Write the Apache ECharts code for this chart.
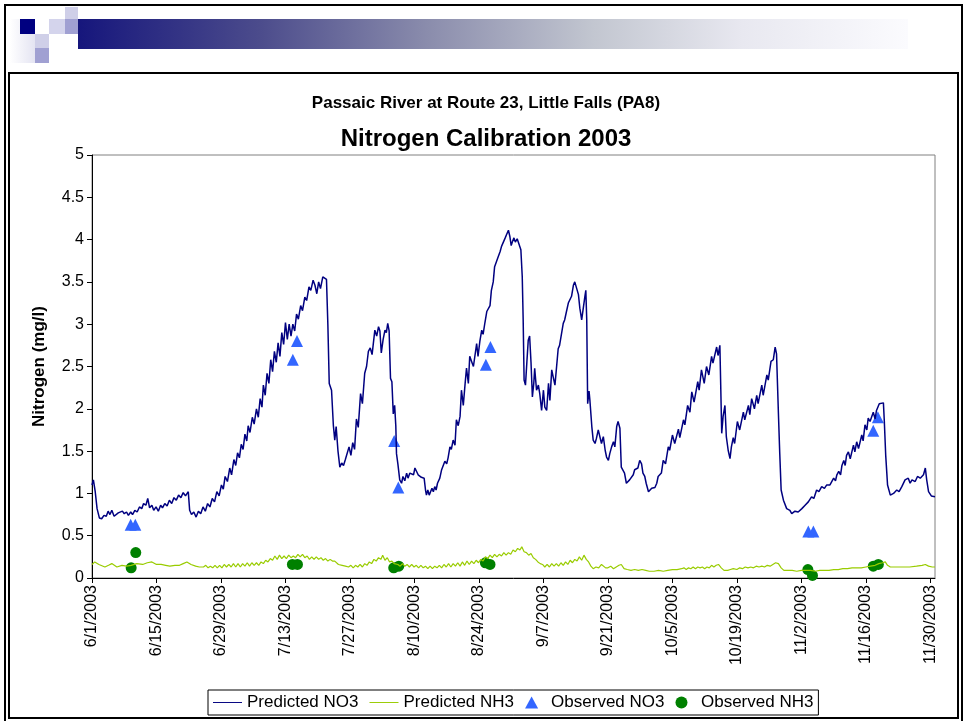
<!DOCTYPE html>
<html>
<head>
<meta charset="utf-8">
<title>Nitrogen Calibration 2003</title>
<script src="https://cdn.jsdelivr.net/npm/echarts@6/dist/echarts.min.js"></script>
<style>
  html, body { margin: 0; padding: 0; background: #fff; }
  body { width: 966px; height: 721px; position: relative; overflow: hidden; }
  .deco { position: absolute; }
  #frame { left: 4px; top: 4px; width: 955px; height: 730px; border: 2px solid #000; }
  #box { left: 8px; top: 72px; width: 947px; height: 643px; border: 2px solid #000; }
  #bar { left: 78px; top: 19px; width: 830px; height: 30px;
         background: linear-gradient(to right, #16167c 0%, #4c4c8c 22%, #8a8cac 42%, #c2c6d0 62%, #e8e8f0 80%, #fbfbfe 100%); }
  #chart { position: absolute; left: 0; top: 0; width: 966px; height: 721px; }
</style>
</head>
<body>
<div class="deco" id="frame"></div>
<div class="deco" id="box"></div>
<div class="deco" style="left:10px;top:19px;width:25px;height:44px;background:linear-gradient(to right,#ffffff,#e4e4f2);"></div>
<div class="deco" style="left:65px;top:7px;width:13px;height:12px;background:#cfcfe8;"></div>
<div class="deco" style="left:20px;top:19px;width:15px;height:15px;background:#000080;"></div>
<div class="deco" style="left:49px;top:19px;width:16px;height:15px;background:#d4d4ec;"></div>
<div class="deco" style="left:65px;top:19px;width:13px;height:15px;background:#a0a0d2;"></div>
<div class="deco" style="left:35px;top:34px;width:14px;height:14px;background:#cfcfe8;"></div>
<div class="deco" style="left:35px;top:48px;width:14px;height:15px;background:#a0a0d2;"></div>
<div class="deco" id="bar"></div>
<div id="chart"></div>
<script>
// x values are days after 6/1/2003
const tickDays = [0, 14, 28, 42, 56, 70, 84, 98, 112, 126, 140, 154, 168, 182]
const tickLabels = ['6/1/2003', '6/15/2003', '6/29/2003', '7/13/2003', '7/27/2003', '8/10/2003', '8/24/2003',
  '9/7/2003', '9/21/2003', '10/5/2003', '10/19/2003', '11/2/2003', '11/16/2003', '11/30/2003']

const predNO3 = [
  [0,1.10],[0.3,1.16],[0.7,1.02],[1.1,0.82],[1.6,0.71],[2.1,0.70],[2.6,0.74],[3.1,0.73],[3.5,0.79],[3.9,0.75],
  [4.3,0.80],[4.8,0.73],[5.2,0.72],[5.7,0.77],[6.1,0.75],[6.6,0.79],[7.0,0.76],[7.5,0.78],[7.9,0.74],[8.4,0.78],
  [8.8,0.75],[9.3,0.80],[9.8,0.78],[10.3,0.84],[10.8,0.82],[11.2,0.88],[11.7,0.86],[12.1,0.94],[12.5,0.83],[13.0,0.86],
  [13.4,0.80],[13.9,0.84],[14.4,0.79],[14.9,0.86],[15.3,0.83],[15.8,0.88],[16.3,0.85],[16.8,0.92],[17.3,0.88],[17.8,0.95],
  [18.3,0.92],[18.8,0.98],[19.3,0.95],[19.8,1.01],[20.3,0.97],[20.9,1.02],[21.2,0.80],[21.6,0.75],[22.1,0.78],[22.6,0.72],
  [23.1,0.79],[23.6,0.76],[24.1,0.84],[24.6,0.79],[25.1,0.88],[25.6,0.84],[26.1,0.94],[26.6,0.90],[27.1,1.02],[27.6,0.97],
  [28.1,1.10],[28.5,1.05],[28.9,1.20],[29.4,1.14],[29.9,1.30],[30.3,1.22],[30.8,1.40],[31.2,1.33],[31.6,1.48],[32.0,1.42],
  [32.4,1.58],[32.8,1.52],[33.2,1.70],[33.6,1.62],[33.9,1.80],[34.3,1.72],[34.8,1.90],[35.2,1.82],[35.7,2.00],[36.1,1.90],
  [36.5,2.12],[36.9,2.02],[37.2,2.28],[37.6,2.16],[38.0,2.42],[38.4,2.30],[38.8,2.58],[39.2,2.44],[39.6,2.68],[40.0,2.55],
  [40.4,2.78],[40.8,2.62],[41.2,2.90],[41.6,2.76],[42.0,3.02],[42.4,2.82],[42.8,3.00],[43.2,2.86],[43.6,3.00],[44.0,2.92],
  [44.4,3.12],[44.8,3.06],[45.3,3.22],[45.7,3.16],[46.2,3.32],[46.6,3.28],[47.1,3.44],[47.5,3.40],[48.0,3.52],[48.4,3.46],
  [48.8,3.36],[49.2,3.50],[49.6,3.42],[50.1,3.56],[50.5,3.55],[50.9,3.53],[51.2,3.00],[51.5,2.30],[52.0,2.22],[52.4,1.80],
  [52.7,1.63],[53.0,1.79],[53.4,1.50],[53.8,1.31],[54.2,1.36],[54.6,1.33],[55.0,1.40],[55.4,1.38],[55.8,1.55],[56.2,1.45],
  [56.6,1.60],[57.0,1.52],[57.4,1.88],[57.8,1.78],[58.3,2.18],[58.7,2.06],[59.2,2.42],[59.6,2.50],[60.0,2.68],[60.4,2.72],
  [60.8,2.64],[61.4,2.93],[61.8,2.86],[62.2,2.97],[62.5,2.92],[62.8,2.66],[63.2,2.82],[63.6,2.93],[63.9,2.90],[64.2,3.01],
  [64.5,2.92],[64.8,2.36],[65.1,2.32],[65.4,1.94],[65.7,2.04],[65.95,1.80],[66.1,1.47],[66.4,1.35],[66.8,1.16],[67.2,1.12],
  [67.5,1.20],[67.9,1.15],[68.3,1.24],[68.6,1.18],[69.0,1.24],[69.4,1.26],[69.8,1.22],[70.1,1.30],[70.5,1.28],[70.8,1.22],
  [71.2,1.24],[71.5,1.19],[72.1,1.18],[72.4,1.04],[72.6,0.98],[72.9,1.04],[73.2,0.98],[73.5,0.96],[73.8,1.06],[74.1,1.02],
  [74.4,1.08],[74.7,1.04],[75.0,1.12],[75.5,1.18],[75.9,1.28],[76.2,1.26],[76.6,1.38],[77.0,1.35],[77.3,1.42],[77.7,1.55],
  [78.0,1.52],[78.4,1.63],[78.8,1.57],[79.1,1.87],[79.5,1.80],[79.9,1.91],[80.2,2.22],[80.6,2.04],[81.0,2.30],[81.3,2.48],
  [81.7,2.30],[82.0,2.62],[82.4,2.56],[82.8,2.50],[83.5,2.77],[83.8,2.62],[84.2,2.80],[84.6,2.93],[84.9,2.88],[85.3,3.02],
  [85.7,3.15],[86.0,3.17],[86.4,3.22],[86.7,3.40],[87.1,3.50],[87.4,3.68],[87.8,3.68],[88.2,3.80],[88.6,3.86],[88.9,3.92],
  [89.3,3.97],[89.7,4.02],[90.0,4.06],[90.4,4.11],[90.7,4.04],[91.0,3.93],[91.3,3.98],[91.6,4.02],[91.9,3.97],[92.3,4.01],
  [92.7,4.00],[93.1,3.88],[93.4,3.56],[93.6,3.05],[93.8,2.34],[94.1,2.28],[94.4,2.55],[94.7,2.81],[95.0,2.86],[95.3,2.55],
  [95.6,2.14],[95.9,2.30],[96.1,2.48],[96.5,2.22],[96.9,2.28],[97.2,2.18],[97.6,1.98],[98.0,2.22],[98.3,2.02],[98.7,1.98],
  [99.1,2.30],[99.4,2.10],[99.8,2.46],[100.1,2.38],[100.5,2.28],[100.8,2.26],[101.2,2.71],[101.5,2.75],[101.9,2.77],[102.3,3.01],
  [102.6,3.05],[103.0,3.15],[103.4,3.25],[103.7,3.27],[104.1,3.33],[104.5,3.46],[104.8,3.50],[105.2,3.48],[105.6,3.35],[105.9,3.19],
  [106.3,3.05],[106.7,3.05],[107.0,3.33],[107.2,3.40],[107.4,3.05],[107.6,2.06],[107.9,2.21],[108.1,2.09],[108.5,1.79],[108.8,1.63],
  [109.2,1.59],[109.5,1.65],[109.9,1.75],[110.3,1.73],[110.6,1.59],[111.0,1.67],[111.4,1.51],[111.7,1.43],[112.1,1.39],[112.4,1.47],
  [112.8,1.55],[113.2,1.61],[113.5,1.55],[113.9,1.79],[114.2,1.85],[114.6,1.77],[114.9,1.31],[115.3,1.31],[115.6,1.24],[116.0,1.12],
  [116.7,1.16],[117.5,1.22],[117.8,1.28],[118.5,1.30],[118.9,1.39],[119.3,1.35],[119.6,1.24],[120.0,1.20],[120.3,1.12],[120.8,1.02],
  [121.5,1.06],[122.2,1.07],[122.6,1.12],[122.9,1.20],[123.3,1.18],[123.6,1.24],[124.0,1.39],[124.5,1.35],[125.1,1.55],[125.4,1.51],
  [126.0,1.69],[126.5,1.59],[127.3,1.76],[127.6,1.66],[128.4,1.87],[128.7,1.81],[129.3,2.04],[129.8,1.96],[130.2,2.20],[130.7,2.08],
  [131.5,2.32],[131.8,2.22],[132.3,2.46],[132.9,2.30],[133.4,2.50],[133.9,2.40],[134.5,2.62],[134.8,2.54],[135.6,2.73],[135.9,2.63],
  [136.3,2.75],[136.5,2.73],[136.7,1.71],[137.0,1.91],[137.4,2.04],[137.7,1.67],[138.1,1.51],[138.5,1.41],[138.8,1.55],[139.2,1.66],
  [139.5,1.59],[140.1,1.85],[140.6,1.75],[141.4,1.96],[141.7,1.87],[142.5,2.04],[142.8,1.93],[143.2,2.12],[143.8,2.00],[144.3,2.16],
  [144.6,2.06],[145.4,2.28],[145.7,2.16],[146.5,2.40],[146.8,2.34],[147.4,2.56],[147.9,2.58],[148.3,2.73],[148.6,2.65],[149.0,1.96],
  [149.3,1.47],[149.6,1.04],[150.1,0.92],[150.4,0.90],[150.8,0.82],[151.2,0.84],[151.5,0.80],[151.9,0.76],[152.6,0.79],[153.3,0.78],
  [154.1,0.82],[154.8,0.86],[155.5,0.90],[156.2,0.96],[156.7,0.94],[157.3,1.04],[157.8,1.02],[158.4,1.08],[159.0,1.06],[159.5,1.10],
  [160.2,1.10],[161.0,1.18],[161.4,1.15],[161.7,1.22],[162.1,1.26],[162.5,1.22],[162.8,1.33],[163.2,1.39],[163.5,1.33],[163.8,1.45],
  [164.2,1.49],[164.6,1.41],[165.3,1.57],[165.6,1.49],[166.0,1.61],[166.4,1.53],[167.1,1.69],[167.4,1.62],[167.8,1.81],[168.2,1.75],
  [168.5,1.89],[168.9,1.85],[169.6,1.96],[170.0,1.88],[170.3,1.98],[170.9,2.06],[171.3,2.08],[171.8,2.07],[172.0,1.85],[172.3,1.45],
  [172.7,1.10],[173.3,0.98],[174.0,1.00],[174.7,1.04],[175.2,1.02],[175.8,1.08],[176.5,1.16],[177.2,1.18],[177.6,1.12],[178.0,1.16],
  [178.7,1.14],[179.2,1.20],[179.8,1.18],[180.5,1.22],[180.9,1.30],[181.2,1.16],[181.6,1.02],[182.2,0.97],[183.0,0.96]
]

const predNH3 = [
  [0,0.16],[0.6,0.19],[1.5,0.16],[2.8,0.13],[3.6,0.15],[4.3,0.17],[5.4,0.13],[6.5,0.15],[7.5,0.14],[8.5,0.15],
  [9.7,0.17],[11.0,0.16],[12.0,0.18],[13.0,0.19],[14.0,0.16],[15.0,0.16],[16.0,0.15],[16.9,0.14],[18.0,0.15],[19.0,0.15],
  [19.8,0.17],[20.6,0.19],[21.5,0.16],[22.5,0.14],[23.3,0.13],[24.2,0.13],[24.7,0.15],[25.2,0.12],[25.7,0.14],[26.2,0.12],
  [26.7,0.15],[27.2,0.12],[27.7,0.15],[28.2,0.12],[28.7,0.16],[29.2,0.13],[29.7,0.16],[30.2,0.13],[30.7,0.17],[31.2,0.13],
  [31.7,0.17],[32.2,0.13],[32.7,0.17],[33.2,0.14],[33.7,0.18],[34.2,0.14],[34.7,0.18],[35.2,0.15],[35.7,0.18],[36.2,0.15],
  [36.7,0.19],[37.2,0.17],[37.7,0.21],[38.2,0.19],[38.7,0.23],[39.2,0.21],[39.7,0.26],[40.2,0.22],[40.7,0.27],[41.2,0.23],
  [41.7,0.26],[42.2,0.23],[42.7,0.27],[43.2,0.24],[43.7,0.26],[44.2,0.24],[44.7,0.28],[45.2,0.25],[45.7,0.28],[46.2,0.24],
  [46.7,0.26],[47.2,0.22],[47.7,0.25],[48.2,0.22],[48.7,0.25],[49.2,0.22],[49.7,0.24],[50.2,0.21],[50.7,0.23],[51.2,0.20],
  [51.7,0.22],[52.2,0.20],[52.7,0.20],[53.5,0.16],[54.3,0.15],[55.0,0.14],[55.7,0.13],[56.2,0.15],[56.7,0.12],[57.2,0.15],
  [57.7,0.13],[58.2,0.16],[58.7,0.13],[59.2,0.17],[59.7,0.15],[60.2,0.19],[60.7,0.17],[61.2,0.22],[61.7,0.20],[62.2,0.24],
  [62.7,0.22],[63.1,0.27],[63.6,0.21],[64.1,0.24],[64.6,0.19],[65.1,0.20],[65.6,0.17],[66.4,0.16],[66.9,0.14],[67.4,0.17],
  [67.9,0.14],[68.4,0.16],[68.9,0.13],[69.4,0.16],[69.9,0.13],[70.4,0.15],[70.9,0.12],[71.4,0.15],[71.9,0.12],[72.4,0.14],
  [72.9,0.11],[73.4,0.14],[73.9,0.11],[74.4,0.14],[74.9,0.12],[75.4,0.15],[75.9,0.12],[76.4,0.16],[76.9,0.13],[77.4,0.17],
  [77.9,0.13],[78.4,0.17],[78.9,0.14],[79.4,0.18],[79.9,0.14],[80.4,0.19],[80.9,0.15],[81.4,0.20],[81.9,0.16],[82.4,0.20],
  [82.9,0.17],[83.4,0.21],[83.9,0.18],[84.4,0.22],[84.9,0.20],[85.4,0.25],[85.9,0.23],[86.4,0.27],[86.9,0.24],[87.4,0.28],
  [87.9,0.25],[88.4,0.28],[88.9,0.26],[89.4,0.30],[89.9,0.27],[90.4,0.30],[90.9,0.28],[91.4,0.33],[91.9,0.31],[92.4,0.35],
  [92.9,0.33],[93.3,0.37],[93.8,0.31],[94.3,0.30],[94.8,0.27],[95.3,0.29],[95.8,0.24],[96.3,0.22],[96.8,0.19],[97.3,0.17],
  [97.8,0.16],[98.3,0.13],[98.8,0.16],[99.3,0.13],[99.8,0.17],[100.3,0.14],[100.8,0.17],[101.3,0.14],[101.8,0.18],[102.3,0.15],
  [102.8,0.19],[103.3,0.16],[103.8,0.21],[104.3,0.18],[104.8,0.22],[105.3,0.20],[105.8,0.25],[106.3,0.21],[106.8,0.27],[107.3,0.22],
  [107.8,0.19],[108.3,0.14],[108.8,0.11],[109.4,0.13],[110.0,0.12],[110.6,0.16],[111.0,0.17],[111.5,0.12],[112.0,0.12],[112.6,0.14],
  [113.2,0.11],[113.8,0.13],[114.4,0.15],[114.9,0.16],[115.5,0.11],[116.2,0.10],[117.0,0.09],[117.8,0.10],[118.6,0.09],[119.4,0.10],
  [120.2,0.09],[121.0,0.08],[122.0,0.08],[123.0,0.09],[124.0,0.08],[125.0,0.09],[126.0,0.10],[127.0,0.10],[128.0,0.11],[128.5,0.12],
  [129.0,0.10],[129.5,0.12],[130.0,0.11],[130.5,0.13],[131.0,0.11],[131.5,0.13],[132.0,0.12],[132.5,0.13],[133.0,0.11],[133.5,0.13],
  [134.0,0.12],[134.5,0.15],[135.0,0.13],[135.5,0.15],[136.0,0.16],[136.6,0.12],[137.2,0.09],[138.0,0.09],[138.6,0.10],[139.2,0.11],
  [140.0,0.10],[140.6,0.12],[141.2,0.11],[141.8,0.13],[142.4,0.12],[143.0,0.13],[143.6,0.12],[144.2,0.14],[144.8,0.13],[145.4,0.14],
  [146.0,0.13],[146.6,0.15],[147.2,0.14],[147.8,0.16],[148.4,0.18],[149.0,0.17],[149.6,0.12],[150.2,0.09],[151.0,0.09],[152.0,0.09],
  [153.0,0.08],[154.0,0.09],[155.0,0.09],[156.0,0.09],[157.0,0.08],[158.0,0.09],[159.0,0.09],[160.0,0.09],[161.0,0.10],[162.0,0.10],
  [163.0,0.11],[164.0,0.11],[165.0,0.12],[166.0,0.12],[167.0,0.12],[168.0,0.13],[169.0,0.14],[170.0,0.15],[170.8,0.17],[171.6,0.18],
  [172.2,0.19],[172.7,0.15],[173.3,0.13],[174.5,0.13],[176.0,0.13],[177.5,0.13],[179.0,0.14],[180.2,0.15],[180.9,0.16],[181.6,0.14],
  [182.4,0.13],[183.0,0.13]
]

const obsNO3 = [
  [8.4,0.63],[9.4,0.63],[43.6,2.58],[44.5,2.80],[65.6,1.62],[66.5,1.07],
  [85.5,2.52],[86.5,2.73],[155.5,0.55],[156.6,0.55],[169.6,1.74],[170.6,1.90]
]

const obsNH3 = [
  [8.5,0.12],[9.5,0.30],[43.5,0.16],[44.6,0.16],[65.5,0.12],[66.6,0.14],
  [85.4,0.18],[86.4,0.16],[155.4,0.10],[156.4,0.03],[169.6,0.14],[170.7,0.16]
]

const FONT = '"Liberation Sans", Arial, sans-serif'
const LINE_ICON = 'path://M0,0H30V1H0Z'
const TRI_ICON = 'path://M6,0L12,11H0Z'

const chart = echarts.init(document.getElementById('chart'))

const option = {
  animation: false,
  textStyle: { fontFamily: FONT, color: '#000' },
  title: [
    {
      text: 'Passaic River at Route 23, Little Falls (PA8)',
      left: 486, top: 95, padding: 0, textAlign: 'center',
      textStyle: { fontFamily: FONT, fontSize: 17, fontWeight: 'bold', color: '#000' },
    },
    {
      text: 'Nitrogen Calibration 2003',
      left: 486, top: 127, padding: 0, textAlign: 'center',
      textStyle: { fontFamily: FONT, fontSize: 24, fontWeight: 'bold', color: '#000' },
    },
  ],
  grid: {
    left: 92, top: 155, width: 843, height: 423,
    show: true, borderColor: '#808080', borderWidth: 1,
  },
  legend: {
    left: 208, top: 690,
    padding: [4, 5],
    itemGap: 11, itemWidth: 29, itemHeight: 12,
    borderColor: '#000', borderWidth: 1,
    textStyle: { fontFamily: FONT, fontSize: 17, color: '#000' },
    data: [
      { name: 'Predicted NO3', icon: LINE_ICON },
      { name: 'Predicted NH3', icon: LINE_ICON },
      { name: 'Observed NO3', icon: TRI_ICON },
      { name: 'Observed NH3', icon: 'circle' },
    ],
  },
  xAxis: {
    type: 'value', min: 0, max: 183,
    axisLine: { show: true, onZero: false, lineStyle: { color: '#000', width: 1 } },
    axisTick: { show: true, length: 5, customValues: tickDays, lineStyle: { color: '#000' } },
    axisLabel: {
      customValues: tickDays,
      rotate: 90, margin: 7, fontSize: 16, color: '#000', fontFamily: FONT,
      formatter: v => tickLabels[tickDays.indexOf(v)],
    },
    splitLine: { show: false },
  },
  yAxis: {
    type: 'value', min: 0, max: 5, interval: 0.5,
    name: 'Nitrogen (mg/l)', nameLocation: 'middle', nameGap: 44,
    nameTextStyle: { fontFamily: FONT, fontSize: 17, fontWeight: 'bold', color: '#000' },
    axisLine: { show: true, lineStyle: { color: '#000', width: 1 } },
    axisTick: { show: true, length: 5, lineStyle: { color: '#000' } },
    axisLabel: { fontSize: 16, color: '#000', margin: 8, fontFamily: FONT },
    splitLine: { show: false },
  },
  series: [
    {
      name: 'Predicted NO3', type: 'line', data: predNO3,
      symbol: 'none', lineStyle: { color: '#000080', width: 1.5 }, itemStyle: { color: '#000080' },
    },
    {
      name: 'Predicted NH3', type: 'line', data: predNH3,
      symbol: 'none', lineStyle: { color: '#99cc00', width: 1.2 }, itemStyle: { color: '#99cc00' },
    },
    {
      name: 'Observed NO3', type: 'scatter', data: obsNO3,
      symbol: 'triangle', symbolSize: 12, itemStyle: { color: '#3366ff', opacity: 1 },
    },
    {
      name: 'Observed NH3', type: 'scatter', data: obsNH3,
      symbol: 'circle', symbolSize: 11, itemStyle: { color: '#008000', opacity: 1 },
    },
  ],
}

chart.setOption(option)
</script>
</body>
</html>
